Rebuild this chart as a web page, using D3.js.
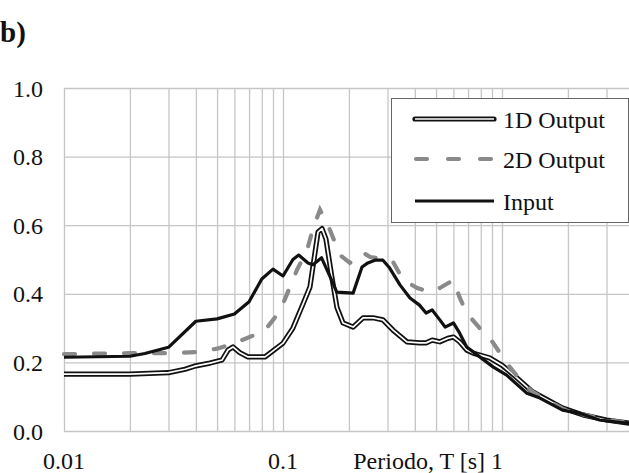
<!DOCTYPE html>
<html>
<meta charset="utf-8">
<style>
  body { margin: 0; background: #fff; }
  svg text { font-family: "Liberation Serif", "Times New Roman", serif; fill: #111; }
  .grid line { stroke: #c6c6c6; stroke-width: 1.3; }
  .grid path { display: none; }
</style>
<body>
<svg width="629" height="473"></svg>
<script src="https://d3js.org/d3.v7.min.js"></script>
<script>
// periods (s) and spectral values
const out1D = [
  [0.01,0.166],[0.02,0.166],[0.03,0.17],[0.0357,0.18],[0.04,0.19],[0.0464,0.198],
  [0.0527,0.207],[0.0561,0.236],[0.0591,0.245],[0.0636,0.228],[0.0692,0.216],[0.0828,0.216],
  [0.0872,0.227],[0.1,0.256],[0.111,0.30],[0.1234,0.37],[0.1328,0.42],[0.14,0.52],
  [0.1445,0.58],[0.1507,0.59],[0.157,0.56],[0.167,0.45],[0.1764,0.36],[0.188,0.315],
  [0.209,0.303],[0.232,0.33],[0.258,0.33],[0.286,0.324],[0.318,0.294],[0.368,0.26],
  [0.42,0.257],[0.45,0.257],[0.48,0.265],[0.52,0.26],[0.565,0.27],[0.60,0.274],
  [0.64,0.26],[0.69,0.236],[0.74,0.227],[0.88,0.213],[1.0,0.192],[1.17,0.155],
  [1.38,0.114],[1.89,0.067],[2.34,0.047],[3.0,0.032],[3.8,0.023],[4.0,0.021]
];
const out2D = [
  [0.01,0.224],[0.02,0.227],[0.03,0.227],[0.04,0.23],[0.05,0.24],[0.0591,0.254],
  [0.0761,0.283],[0.0828,0.294],[0.0969,0.35],[0.1076,0.42],[0.1159,0.47],[0.1287,0.527],
  [0.1371,0.59],[0.1475,0.645],[0.1639,0.586],[0.182,0.513],[0.202,0.49],[0.232,0.52],
  [0.25,0.507],[0.30,0.50],[0.318,0.493],[0.354,0.44],[0.41,0.417],[0.47,0.405],
  [0.52,0.417],[0.60,0.44],[0.64,0.39],[0.69,0.344],[0.79,0.30],[0.85,0.285],
  [0.98,0.227],[1.05,0.198],[1.21,0.149],[1.38,0.114],[1.89,0.065],[2.34,0.048],
  [3.0,0.033],[4.0,0.022]
];
const input = [
  [0.01,0.215],[0.02,0.218],[0.0234,0.226],[0.03,0.244],[0.04,0.32],[0.05,0.327],
  [0.06,0.341],[0.07,0.377],[0.08,0.443],[0.09,0.472],[0.1,0.452],[0.111,0.50],
  [0.118,0.513],[0.13,0.49],[0.137,0.485],[0.15,0.505],[0.164,0.45],[0.176,0.405],
  [0.209,0.402],[0.2295,0.478],[0.244,0.49],[0.263,0.498],[0.286,0.498],[0.307,0.475],
  [0.342,0.426],[0.38,0.388],[0.42,0.367],[0.45,0.344],[0.48,0.353],[0.52,0.324],
  [0.55,0.303],[0.60,0.315],[0.64,0.286],[0.69,0.245],[0.77,0.222],[0.91,0.187],
  [1.05,0.163],[1.30,0.11],[1.49,0.096],[1.89,0.061],[2.26,0.052],[2.79,0.032],
  [3.7,0.023],[4.0,0.02]
];
const yTicks = [0, 0.2, 0.4, 0.6, 0.8, 1.0];
const xLabels = [0.01, 0.1, 1];
const legendNames = ["1D Output", "2D Output", "Input"];

const svg = d3.select("svg");
const mLeft = 64, mTop = 88, mBottom = 431;

const x = d3.scaleLog().domain([0.01, 4]).range([mLeft, mLeft + 219 * Math.log10(400)]);
const y = d3.scaleLinear().domain([0, 1]).range([mBottom, mTop]);

// minor grid: 0.01..0.09, 0.1..0.9, 1..4
const xGrid = [];
[0.01, 0.1, 1].forEach(d => { for (let k = 1; k <= 9; k++) if (d * k <= 4) xGrid.push(d * k); });

svg.append("g").attr("class", "grid")
  .attr("transform", `translate(0,${mBottom})`)
  .call(d3.axisBottom(x).tickValues(xGrid).tickSize(-(mBottom - mTop)).tickFormat(""));
svg.append("g").attr("class", "grid")
  .attr("transform", `translate(${mLeft},0)`)
  .call(d3.axisLeft(y).tickValues(yTicks).tickSize(-(x.range()[1] - mLeft)).tickFormat(""));

// tick labels
svg.append("g").selectAll("text").data(yTicks).join("text")
  .attr("x", 43).attr("y", d => y(d)).attr("dy", "0.36em")
  .attr("text-anchor", "end").style("font-size", "24px")
  .text(d => d.toFixed(1));
svg.append("g").selectAll("text").data(xLabels).join("text")
  .attr("x", d => x(d) - (d === 1 ? 5 : 0)).attr("y", 469)
  .attr("text-anchor", "middle").style("font-size", "24px")
  .text(d => d);
svg.append("text").attr("x", 485).attr("y", 469).attr("text-anchor", "end")
  .style("font-size", "24px").text("Periodo, T [s]");
svg.append("text").attr("x", 0).attr("y", 42)
  .style("font-size", "29px").style("font-weight", "bold").text("b)");

const line = d3.line().x(d => x(d[0])).y(d => y(d[1]));
const plot = svg.append("g");

// 1D double line
plot.append("path").datum(out1D).attr("d", line)
  .attr("fill", "none").attr("stroke", "#111").attr("stroke-width", 5.2).attr("stroke-linejoin", "round");
plot.append("path").datum(out1D).attr("d", line)
  .attr("fill", "none").attr("stroke", "#fff").attr("stroke-width", 1.7).attr("stroke-linejoin", "round");
// 2D dashed
plot.append("path").datum(out2D).attr("d", line)
  .attr("fill", "none").attr("stroke", "#8a8a8a").attr("stroke-width", 4.2)
  .attr("stroke-dasharray", "11,19").attr("stroke-linecap", "round");
// input
plot.append("path").datum(input).attr("d", line)
  .attr("fill", "none").attr("stroke", "#111").attr("stroke-width", 3.2).attr("stroke-linejoin", "round");

// legend
const lg = svg.append("g");
lg.append("rect").attr("x", 391.5).attr("y", 98.5).attr("width", 237).attr("height", 124)
  .attr("fill", "#fff").attr("stroke", "#666").attr("stroke-width", 1);
const rows = [119, 159, 201];
legendNames.forEach((name, i) => {
  const yy = rows[i];
  if (i === 0) {
    lg.append("line").attr("x1", 415).attr("x2", 494).attr("y1", yy).attr("y2", yy)
      .attr("stroke", "#111").attr("stroke-width", 5.2).attr("stroke-linecap", "round");
    lg.append("line").attr("x1", 415).attr("x2", 494).attr("y1", yy).attr("y2", yy)
      .attr("stroke", "#fff").attr("stroke-width", 1.7);
  } else if (i === 1) {
    lg.append("line").attr("x1", 416).attr("x2", 495).attr("y1", yy).attr("y2", yy)
      .attr("stroke", "#8a8a8a").attr("stroke-width", 4.2)
      .attr("stroke-dasharray", "11,21").attr("stroke-linecap", "round");
  } else {
    lg.append("line").attr("x1", 415).attr("x2", 494).attr("y1", yy).attr("y2", yy)
      .attr("stroke", "#111").attr("stroke-width", 3.2);
  }
  lg.append("text").attr("x", 503).attr("y", yy).attr("dy", "0.36em")
    .style("font-size", "24px").text(name);
});
</script>
</body>
</html>
